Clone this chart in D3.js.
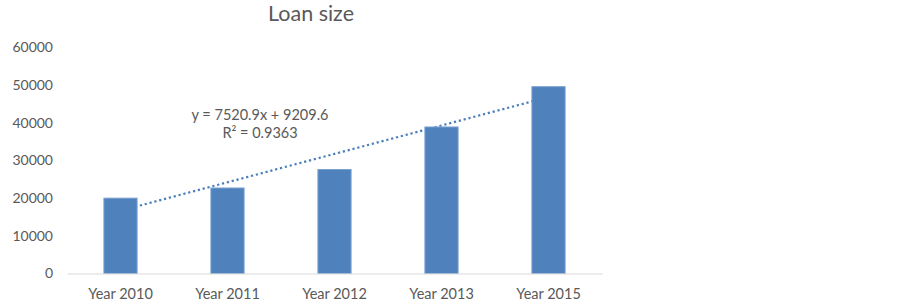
<!DOCTYPE html>
<html>
<head>
<meta charset="utf-8">
<script src="https://cdn.jsdelivr.net/npm/d3@7"></script>
<style>
  body { margin: 0; background: #fff; }
  svg { display: block; font-family: Lato, "Open Sans", sans-serif; }
</style>
</head>
<body>
<svg id="chart" width="900" height="307"></svg>
<script>
// chart data
const years = ["Year 2010", "Year 2011", "Year 2012", "Year 2013", "Year 2015"];
const loanSize = [20000, 22700, 27600, 38900, 49600];
const yTicks = [0, 10000, 20000, 30000, 40000, 50000, 60000];
const chartTitle = "Loan size";
const trendLabel = ["y = 7520.9x + 9209.6", "R\u00B2 = 0.9363"];

var svg = d3.select("svg#chart");

var x = d3.scaleBand().domain(years).range([67, 602]).padding(0);
var y = d3.scaleLinear().domain([0, 60000]).range([273.5, 47.5]);
var barW = x.bandwidth() * 0.31;

// title
svg.append("text")
  .attr("x", 311)
  .attr("y", 21)
  .attr("text-anchor", "middle")
  .attr("font-size", 21.5)
  .attr("fill", "#595959")
  .text(chartTitle);

// y axis, labels only
var yAxis = svg.append("g")
  .attr("transform", "translate(67,0)")
  .call(d3.axisLeft(y).tickValues(yTicks).tickSize(0).tickPadding(14).tickFormat(d3.format("d")));
yAxis.select(".domain").remove();
yAxis.selectAll("text").attr("font-size", 14).attr("fill", "#595959").attr("font-family", "Lato, sans-serif");

// linear trend (least squares over 1..n), drawn behind the bars
var n = loanSize.length;
var xs = loanSize.map((d, i) => i + 1);
var mx = d3.mean(xs), my = d3.mean(loanSize);
var slope = d3.sum(xs, (d, i) => (d - mx) * (loanSize[i] - my)) / d3.sum(xs, (d) => (d - mx) * (d - mx));
var icpt = my - slope * mx;

svg.append("line")
  .attr("x1", x(years[0]) + x.bandwidth() / 2)
  .attr("y1", y(icpt + slope * 1))
  .attr("x2", x(years[n - 1]) + x.bandwidth() / 2)
  .attr("y2", y(icpt + slope * n))
  .attr("stroke", "#4a7ebb")
  .attr("stroke-width", 2.2)
  .attr("stroke-dasharray", "2.2 2.8");

// bars
svg.selectAll(".bar")
  .data(loanSize)
  .enter()
  .append("rect")
  .attr("class", "bar")
  .attr("x", (d, i) => x(years[i]) + (x.bandwidth() - barW) / 2)
  .attr("y", (d) => y(d))
  .attr("width", barW)
  .attr("height", (d) => y(0) - y(d))
  .attr("fill", "#4f81bd")
  .attr("stroke", "#7aa0cf")
  .attr("stroke-width", 1);

// x axis
var xAxis = svg.append("g")
  .attr("transform", "translate(0," + y(0) + ")")
  .call(d3.axisBottom(x).tickSize(0).tickPadding(15));
xAxis.select(".domain").attr("stroke", "#d9d9d9").attr("stroke-width", 1.2);
xAxis.selectAll("text").attr("font-size", 14.5).attr("fill", "#595959").attr("font-family", "Lato, sans-serif");

// trendline label
svg.selectAll(".eq")
  .data(trendLabel)
  .enter()
  .append("text")
  .attr("class", "eq")
  .attr("x", 260)
  .attr("y", (d, i) => 120 + i * 18)
  .attr("text-anchor", "middle")
  .attr("font-size", 14.5)
  .attr("fill", "#595959")
  .text((d) => d);
</script>
</body>
</html>
